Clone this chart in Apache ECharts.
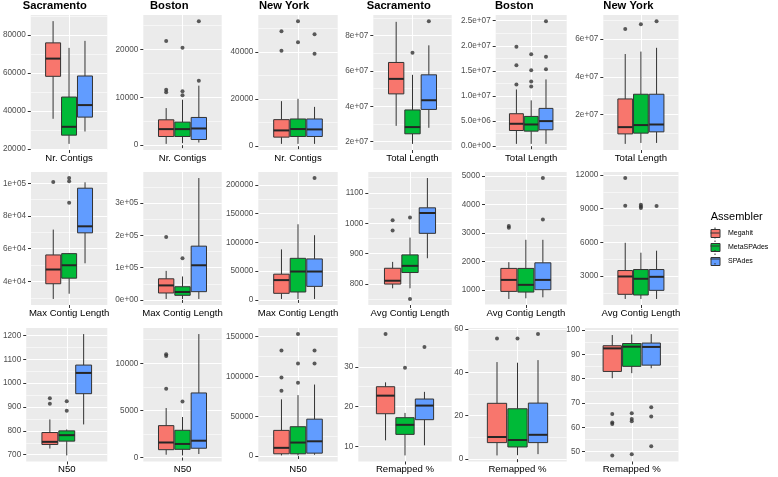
<!DOCTYPE html>
<html><head><meta charset="utf-8">
<script src="https://cdn.jsdelivr.net/npm/echarts@6/dist/echarts.min.js"></script>
<style>html,body{margin:0;padding:0;background:#fff}#c{width:778px;height:477px}</style>
</head><body><div id="c"></div>
<script>
const assemblers = ['Megahit', 'MetaSPAdes', 'SPAdes'];
const colors = ['#F8766D', '#00BA38', '#619CFF'];
const columnTitles = ['Sacramento', 'Boston', 'New York', 'Sacramento', 'Boston', 'New York'];
const metricNames = ['Nr. Contigs', 'Total Length', 'Max Contig Length', 'Avg Contig Length', 'N50', 'Remapped %'];

// box stats per assembler: [lower whisker, Q1, median, Q3, upper whisker]
const nrContigsSac = [[35960, 58240, 67530, 75780, 87180], [22810, 27370, 31750, 47360, 73150], [29300, 36840, 43150, 58410, 76830]];
const nrContigsSacOut = [[], [], []];
const nrContigsBos = [[280, 1820, 3360, 5310, 7760], [420, 1820, 3360, 4830, 9510], [560, 1190, 3500, 5800, 12450]];
const nrContigsBosOut = [[21800, 11600, 11050], [20350, 11260, 10420], [25940, 13500]];
const nrContigsNY = [[1000, 3860, 6710, 11290, 19140], [1000, 4140, 7290, 11570, 20140], [1000, 4140, 7140, 11570, 16710]];
const nrContigsNYOut = [[48860, 40570], [53140, 44140], [47570, 39290]];

const totalLenSac = [[2.89e7, 4.70e7, 5.55e7, 6.48e7, 8.78e7], [1.87e7, 2.44e7, 2.82e7, 3.79e7, 5.78e7], [2.78e7, 3.82e7, 4.34e7, 5.78e7, 7.45e7]];
const totalLenSacOut = [[], [7.03e7], [8.82e7]];
const totalLenBos = [[4.7e5, 3.13e6, 4.47e6, 6.47e6, 1.13e7], [4.7e5, 3.0e6, 4.33e6, 5.93e6, 9.13e6], [4.7e5, 3.27e6, 5.0e6, 7.53e6, 1.33e7]];
const totalLenBosOut = [[1.98e7, 1.61e7, 1.23e7], [1.83e7, 1.51e7, 1.29e7, 1.19e7], [2.49e7, 1.78e7, 1.53e7]];
const totalLenNY = [[4.3e6, 9.6e6, 1.32e7, 2.82e7, 5.21e7], [4.8e6, 1.0e7, 1.43e7, 3.07e7, 5.34e7], [4.8e6, 1.07e7, 1.46e7, 3.07e7, 5.54e7]];
const totalLenNYOut = [[6.54e7], [6.80e7], [6.96e7]];

const maxContigSac = [[29300, 38600, 47300, 56200, 71700], [32500, 42000, 49900, 57000, 57400], [51100, 69700, 73700, 97000, 100600]];
const maxContigSacOut = [[100800], [103200, 101200, 88100], []];
const maxContigBos = [[3000, 21500, 45000, 65500, 90000], [3000, 14300, 24600, 40900, 72700], [3000, 25600, 107500, 166800, 378000]];
const maxContigBosOut = [[195500], [129000], []];
const maxContigNY = [[1700, 11500, 34500, 44800, 87900], [1700, 13800, 49400, 72400, 131600], [1700, 23600, 49400, 71300, 112600]];
const maxContigNYOut = [[], [], [212000]];

const avgContigSac = [[786, 800, 811, 852, 873], [786, 838, 860, 896, 953], [885, 967, 1034, 1051, 1149]];
const avgContigSacOut = [[1010, 976], [1019, 751], []];
const avgContigBos = [[689, 954, 1357, 1760, 1979], [712, 931, 1184, 1760, 2763], [747, 1012, 1357, 1956, 2763]];
const avgContigBosOut = [[3246, 3189], [], [4928, 3477]];
const avgContigNY = [[971, 1383, 2971, 3500, 5969], [971, 1324, 2765, 3588, 5088], [971, 1736, 2941, 3588, 5264]];
const avgContigNYOut = [[11730, 9262], [9350, 9203, 9056], [9233]];

const n50Sac = [[726, 743, 754, 793, 848], [697, 757, 782, 800, 806], [827, 956, 1043, 1076, 1206]];
const n50SacOut = [[937, 914], [924, 884], []];
const n50Bos = [[305, 838, 1599, 3389, 5255], [228, 876, 1447, 2894, 4303], [381, 990, 1790, 6854, 13100]];
const n50BosOut = [[10967, 10777, 7311], [5940], []];
const n50NY = [[830, 2900, 10360, 32300, 71300], [830, 2900, 17000, 36900, 76600], [1660, 3700, 18600, 46400, 89900]];
const n50NYOut = [[132600, 98600, 82000], [153300, 116400, 92000], [132600, 116400]];

const remapSac = [[11.5, 18.2, 22.75, 25.0, 26.1], [7.7, 13.0, 15.4, 17.2, 18.4], [10.25, 16.7, 20.25, 21.9, 23.7]];
const remapSacOut = [[38.25], [29.8], [35.0]];
const remapBos = [[1.7, 7.6, 10.2, 25.7, 44.7], [1.8, 5.6, 8.8, 23.2, 44.4], [2.3, 7.6, 11.2, 25.8, 45.6]];
const remapBosOut = [[55.6], [55.6], [57.6]];
const remapNY = [[80.2, 83.0, 92.5, 93.6, 98.0], [82.3, 85.1, 93.2, 94.5, 98.2], [84.3, 85.6, 93.1, 94.7, 98.4]];
const remapNYOut = [[65.5, 62.0, 61.4, 48.4], [65.8, 63.4, 62.5, 48.9], [68.3, 64.4, 52.2]];

// y tick labels per panel
const ticksNrContigsSac = ['20000', '40000', '60000', '80000'];
const ticksNrContigsBos = ['0', '10000', '20000'];
const ticksNrContigsNY = ['0', '20000', '40000'];
const ticksTotalLenSac = ['2e+07', '4e+07', '6e+07', '8e+07'];
const ticksTotalLenBos = ['0.0e+00', '5.0e+06', '1.0e+07', '1.5e+07', '2.0e+07', '2.5e+07'];
const ticksTotalLenNY = ['2e+07', '4e+07', '6e+07'];
const ticksMaxContigSac = ['4e+04', '6e+04', '8e+04', '1e+05'];
const ticksMaxContigBos = ['0e+00', '1e+05', '2e+05', '3e+05'];
const ticksMaxContigNY = ['0', '50000', '100000', '150000', '200000'];
const ticksAvgContigSac = ['800', '900', '1000', '1100'];
const ticksAvgContigBos = ['1000', '2000', '3000', '4000', '5000'];
const ticksAvgContigNY = ['3000', '6000', '9000', '12000'];
const ticksN50Sac = ['700', '800', '900', '1000', '1100', '1200'];
const ticksN50Bos = ['0', '5000', '10000', '15000'];
const ticksN50NY = ['0', '50000', '100000', '150000'];
const ticksRemapSac = ['10', '20', '30'];
const ticksRemapBos = ['0', '20', '40', '60'];
const ticksRemapNY = ['50', '60', '70', '80', '90', '100'];

const panelStats = [nrContigsSac, nrContigsBos, nrContigsNY, totalLenSac, totalLenBos, totalLenNY,
  maxContigSac, maxContigBos, maxContigNY, avgContigSac, avgContigBos, avgContigNY,
  n50Sac, n50Bos, n50NY, remapSac, remapBos, remapNY];
const panelOut = [nrContigsSacOut, nrContigsBosOut, nrContigsNYOut, totalLenSacOut, totalLenBosOut, totalLenNYOut,
  maxContigSacOut, maxContigBosOut, maxContigNYOut, avgContigSacOut, avgContigBosOut, avgContigNYOut,
  n50SacOut, n50BosOut, n50NYOut, remapSacOut, remapBosOut, remapNYOut];
const panelTicks = [ticksNrContigsSac, ticksNrContigsBos, ticksNrContigsNY, ticksTotalLenSac, ticksTotalLenBos, ticksTotalLenNY,
  ticksMaxContigSac, ticksMaxContigBos, ticksMaxContigNY, ticksAvgContigSac, ticksAvgContigBos, ticksAvgContigNY,
  ticksN50Sac, ticksN50Bos, ticksN50NY, ticksRemapSac, ticksRemapBos, ticksRemapNY];

// layout (pixels)
const panelLeft = [28.3, 143.3, 258.3, 373.3, 495.7, 603.3, 28.3, 143.3, 258.3, 368.3, 485, 603.3, 25, 143.3, 258.3, 358.3, 468.3, 585];
const panelRight = [107.3, 221.7, 337.7, 451.7, 566.7, 678.5, 107.3, 221.7, 337.7, 451.7, 566.7, 678.5, 107.3, 221.7, 337.7, 451.7, 566.7, 678.5];
const rowTop = [15, 172, 328];
const rowHeight = [135, 133, 133.5];
const titleLeft = [22.7, 150, 259, 366.7, 495, 603.3];

const centers = [0.75, 1.0, 1.25];
const BOX_W = 0.235;
const FONT = '"Liberation Sans", Arial, sans-serif';

function renderBox(params, api) {
  const x = api.value(0);
  const lo = api.coord([x, api.value(1)]);
  const q1 = api.coord([x, api.value(2)]);
  const md = api.coord([x, api.value(3)]);
  const q3 = api.coord([x, api.value(4)]);
  const hi = api.coord([x, api.value(5)]);
  const hw = api.size([BOX_W, 0])[0] / 2;
  const cx = lo[0];
  const fill = api.visual('color');
  const ls = { stroke: '#333333', lineWidth: 1 };
  return {
    type: 'group',
    children: [
      { type: 'line', shape: { x1: cx, y1: hi[1], x2: cx, y2: q3[1] }, style: ls },
      { type: 'line', shape: { x1: cx, y1: q1[1], x2: cx, y2: lo[1] }, style: ls },
      { type: 'rect', shape: { x: cx - hw, y: q3[1], width: 2 * hw, height: q1[1] - q3[1] }, style: { fill: fill, stroke: '#333333', lineWidth: 1 } },
      { type: 'line', shape: { x1: cx - hw, y1: md[1], x2: cx + hw, y2: md[1] }, style: { stroke: '#262626', lineWidth: 2 } }
    ]
  };
}

const grids = [], xAxes = [], yAxes = [], series = [], titles = [];

for (let i = 0; i < 18; i++) {
  const r = Math.floor(i / 6), c = i % 6;
  const metric = metricNames[2 * r + (c >= 3 ? 1 : 0)];
  const stats = panelStats[i], outs = panelOut[i];
  const labels = panelTicks[i];
  const majors = labels.map(Number);
  let lo = Infinity, hi = -Infinity;
  for (let a = 0; a < 3; a++) {
    stats[a].concat(outs[a]).forEach(v => { lo = Math.min(lo, v); hi = Math.max(hi, v); });
  }
  const pad = (hi - lo) * 0.05;
  const yMin = lo - pad, yMax = hi + pad;
  const step = majors[1] - majors[0];
  const minors = [];
  for (let v = majors[0] - step / 2 - step * 10; v <= yMax; v += step) {
    if (v >= yMin) minors.push(v);
  }
  grids.push({
    left: panelLeft[i], top: rowTop[r], width: panelRight[i] - panelLeft[i], height: rowHeight[r],
    show: true, backgroundColor: '#EBEBEB', borderWidth: 0
  });
  xAxes.push({
    gridIndex: i, type: 'value', min: 0.4, max: 1.6,
    axisLine: { show: false },
    axisTick: { show: true, length: 3, lineStyle: { color: '#333333', width: 1 }, customValues: [1] },
    axisLabel: { show: false },
    splitLine: { show: true, lineStyle: { color: '#FFFFFF', width: 1.1 } },
    name: metric, nameLocation: 'middle', nameGap: 3,
    nameTextStyle: { fontSize: 9.6, color: '#000', fontFamily: FONT, verticalAlign: 'top' }
  });
  yAxes.push({
    gridIndex: i, type: 'value', min: yMin, max: yMax, position: 'left',
    axisLine: { show: false },
    axisTick: { show: true, length: 3, lineStyle: { color: '#333333', width: 1 }, customValues: majors },
    axisLabel: {
      customValues: majors, fontSize: 8.2, color: '#4D4D4D', margin: 5, fontFamily: FONT,
      formatter: function (v) {
        const k = majors.findIndex(m => Math.abs(m - v) <= Math.abs(step) * 1e-6);
        return k >= 0 ? labels[k] : '';
      }
    },
    splitLine: { show: true, lineStyle: { color: '#FFFFFF', width: 1.1 } }
  });
  yAxes.push({
    gridIndex: i, type: 'value', min: yMin, max: yMax, position: 'left',
    axisLine: { show: false },
    axisTick: { show: false, customValues: minors },
    axisLabel: { show: false },
    splitLine: { show: true, lineStyle: { color: '#FFFFFF', width: 0.55 } }
  });
  for (let a = 0; a < 3; a++) {
    series.push({
      type: 'custom', name: assemblers[a], xAxisIndex: i, yAxisIndex: 2 * i,
      renderItem: renderBox, itemStyle: { color: colors[a] }, z: 3,
      encode: { x: 0, y: [1, 2, 3, 4, 5] },
      data: [[centers[a]].concat(stats[a])]
    });
  }
  for (let a = 0; a < 3; a++) {
    series.push({
      type: 'scatter', name: assemblers[a] + ' outliers', xAxisIndex: i, yAxisIndex: 2 * i,
      symbol: 'circle', symbolSize: 4, itemStyle: { color: '#333333' }, z: 4,
      data: outs[a].map(v => [centers[a], v])
    });
  }
}

columnTitles.forEach((t, c) => {
  titles.push({ text: t, left: titleLeft[c], top: 0, padding: 0,
    textStyle: { fontSize: 11.2, fontWeight: 'bold', color: '#000', fontFamily: FONT } });
});
titles.push({ text: 'Assembler', left: 710.7, top: 211, padding: 0,
  textStyle: { fontSize: 11, fontWeight: 'normal', color: '#000', fontFamily: FONT } });

const legendTop = 229, legendItemH = 8, legendGap = 5, legendLeft = 710.5, legendItemW = 9;
const legendGraphics = [];
assemblers.forEach((n, k) => {
  const cy = legendTop + k * (legendItemH + legendGap) + legendItemH / 2;
  const cx = legendLeft + legendItemW / 2;
  legendGraphics.push({ type: 'line', silent: true, z: 100, shape: { x1: legendLeft, y1: cy, x2: legendLeft + legendItemW, y2: cy }, style: { stroke: '#333', lineWidth: 1 } });
  legendGraphics.push({ type: 'line', silent: true, z: 100, shape: { x1: cx, y1: cy - legendItemH / 2 - 1.5, x2: cx, y2: cy - legendItemH / 2 }, style: { stroke: '#333', lineWidth: 1 } });
  legendGraphics.push({ type: 'line', silent: true, z: 100, shape: { x1: cx, y1: cy + legendItemH / 2, x2: cx, y2: cy + legendItemH / 2 + 1.5 }, style: { stroke: '#333', lineWidth: 1 } });
});

const chart = echarts.init(document.getElementById('c'), null, { renderer: 'canvas' });
chart.setOption({
  animation: false,
  backgroundColor: '#FFFFFF',
  textStyle: { fontFamily: FONT },
  title: titles,
  legend: {
    orient: 'vertical', left: legendLeft, top: legendTop, padding: 0,
    itemWidth: legendItemW, itemHeight: legendItemH, itemGap: legendGap,
    icon: 'rect', itemStyle: { borderColor: '#333333', borderWidth: 1 },
    textStyle: { fontSize: 7, color: '#000', fontFamily: FONT, padding: [0, 0, 0, 3] },
    selectedMode: false,
    data: assemblers
  },
  grid: grids,
  xAxis: xAxes,
  yAxis: yAxes,
  series: series,
  graphic: legendGraphics
});
</script>
</body></html>
